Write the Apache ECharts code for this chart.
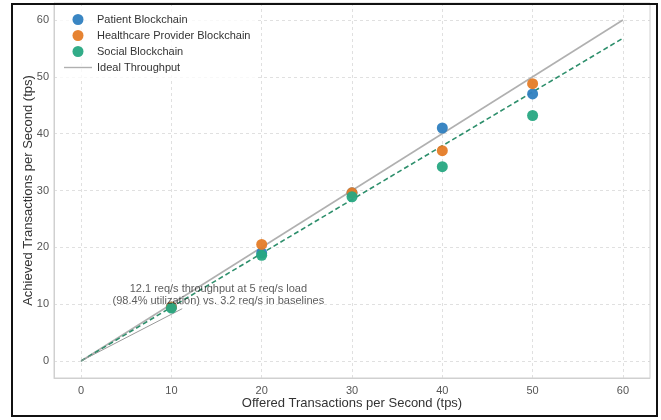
<!DOCTYPE html>
<html>
<head>
<meta charset="utf-8">
<script src="https://cdn.jsdelivr.net/npm/echarts@6/dist/echarts.min.js"></script>
<style>html,body{margin:0;padding:0;background:#fff}#c{width:661px;height:420px}</style>
</head>
<body>
<div id="c"></div>
<script>
const offered = [10, 20, 30, 40, 50];
const patient = [9.5, 19.0, 29.6, 41.0, 47.0];
const provider = [9.5, 20.5, 29.6, 37.0, 48.8];
const social = [9.3, 18.6, 28.9, 34.2, 43.2];
const idealX = [0, 60];
const idealY = [0, 60];
const trendX = [0, 60];
const trendY = [0, 56.8];
const annotArrowX = [0, 11.2];
const annotArrowY = [0, 9.2];
const annotTextPos = [15.2, 11.7];
const annotText = '12.1 req/s throughput at 5 req/s load\n(98.4% utilization) vs. 3.2 req/s in baselines';
const ticks = [0, 10, 20, 30, 40, 50, 60];

const zip = (a, b) => a.map((v, i) => [v, b[i]]);
const font = 'Liberation Sans, Arial, sans-serif';

const chart = echarts.init(document.getElementById('c'), null, {renderer: 'canvas'});
const axisCommon = {
  min: -3, max: 63,
  axisLine: {show: true, onZero: false, lineStyle: {color: '#d0d0d0', width: 1}},
  axisTick: {show: false, customValues: ticks},
  axisLabel: {customValues: ticks, color: '#555', fontSize: 11, fontFamily: font},
  splitLine: {show: true, lineStyle: {color: '#d8d8d8', type: [3, 3], width: 0.8}},
  nameLocation: 'middle',
  nameMoveOverlap: false,
  nameTextStyle: {color: '#333', fontSize: 13, fontFamily: font}
};
chart.setOption({
  animation: false,
  grid: {left: 54, right: 11, top: 3, bottom: 42, show: true, borderColor: '#d0d0d0', borderWidth: 1},
  xAxis: Object.assign({}, axisCommon, {type: 'value', name: 'Offered Transactions per Second (tps)', nameGap: 19,
    axisLabel: Object.assign({}, axisCommon.axisLabel, {margin: 7})}),
  yAxis: Object.assign({}, axisCommon, {type: 'value', name: 'Achieved Transactions per Second (tps)', nameGap: 19,
    axisLabel: Object.assign({}, axisCommon.axisLabel, {margin: 5})}),
  legend: {
    orient: 'vertical', left: 59, top: 9, itemWidth: 28, itemHeight: 11, itemGap: 5,
    data: ['Patient Blockchain', 'Healthcare Provider Blockchain', 'Social Blockchain',
      {name: 'Ideal Throughput', icon: 'path://M0,5 L24,5 L24,6.2 L0,6.2 Z'}],
    textStyle: {color: '#333', fontSize: 11, fontFamily: font}, backgroundColor: 'rgba(255,255,255,0.8)'
  },
  graphic: [{type: 'rect', shape: {x: 12, y: 4, width: 645, height: 412}, style: {fill: 'none', stroke: '#111', lineWidth: 2}, silent: true, z: 100}],
  series: [
    {name: 'Ideal Throughput', type: 'line', data: zip(idealX, idealY), symbol: 'none', lineStyle: {color: '#b0b0b0', width: 1.6}, itemStyle: {color: '#b0b0b0'}, z: 2},
    {name: 'trend', type: 'line', data: zip(trendX, trendY), symbol: 'none', lineStyle: {color: '#2e8f6c', width: 1.6, type: [5, 3]}, z: 3},
    {name: 'arrow', type: 'line', data: zip(annotArrowX, annotArrowY), symbol: 'none', lineStyle: {color: '#999', width: 1}, z: 3},
    {name: 'Patient Blockchain', type: 'scatter', data: zip(offered, patient), symbolSize: 11, itemStyle: {color: '#2f80c0', opacity: 0.95}, z: 4},
    {name: 'Healthcare Provider Blockchain', type: 'scatter', data: zip(offered, provider), symbolSize: 11, itemStyle: {color: '#e57c27', opacity: 0.95}, z: 5},
    {name: 'Social Blockchain', type: 'scatter', data: zip(offered, social), symbolSize: 11, itemStyle: {color: '#27a882', opacity: 0.95}, z: 6},
    {name: 'annot', type: 'scatter', data: [annotTextPos], symbolSize: 0, z: 7,
      label: {show: true, position: 'inside', formatter: annotText, color: '#333', fontSize: 11, fontFamily: font, lineHeight: 12, align: 'center'}}
  ]
});
</script>
</body>
</html>
